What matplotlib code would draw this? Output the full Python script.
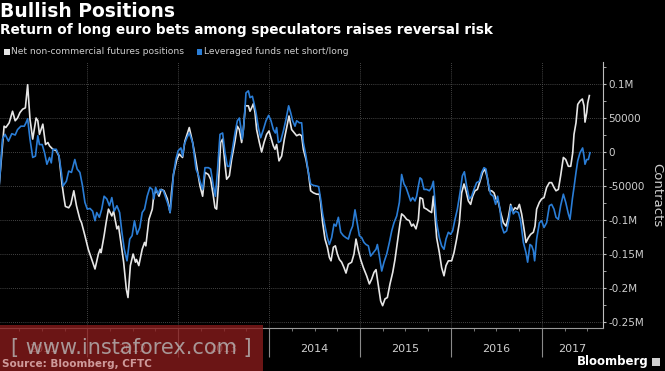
import matplotlib
matplotlib.use("Agg")
import matplotlib.pyplot as plt
from matplotlib.patches import Rectangle
from matplotlib.ticker import FixedLocator, FuncFormatter
from matplotlib.transforms import blended_transform_factory

# ---------------- data (x in decimal years, values in thousands of contracts) -------------
white_x = [2011.030, 2011.085, 2011.104, 2011.141, 2011.178, 2011.207, 2011.233, 2011.259, 2011.289,
           2011.319, 2011.344, 2011.370, 2011.400, 2011.437, 2011.456, 2011.474, 2011.511, 2011.541,
           2011.567, 2011.585, 2011.622, 2011.659, 2011.689, 2011.722, 2011.741, 2011.759, 2011.796,
           2011.819, 2011.852, 2011.881, 2011.919, 2011.937, 2011.974, 2012.011, 2012.059, 2012.085,
           2012.122, 2012.141, 2012.152, 2012.185, 2012.207, 2012.233, 2012.270, 2012.289, 2012.326,
           2012.344, 2012.370, 2012.400, 2012.430, 2012.448, 2012.474, 2012.504, 2012.530, 2012.541,
           2012.567, 2012.604, 2012.630, 2012.644, 2012.678, 2012.715, 2012.733, 2012.763, 2012.789,
           2012.815, 2012.844, 2012.881, 2012.911, 2012.926, 2012.948, 2012.985, 2013.011, 2013.048,
           2013.074, 2013.122, 2013.159, 2013.189, 2013.215,
           2013.240, 2013.269, 2013.295, 2013.332, 2013.357, 2013.387, 2013.405, 2013.423, 2013.442,
           2013.467, 2013.489, 2013.515, 2013.533, 2013.563, 2013.588, 2013.625, 2013.651, 2013.673,
           2013.698, 2013.717, 2013.739, 2013.772, 2013.790, 2013.808, 2013.827, 2013.845, 2013.863,
           2013.893, 2013.918, 2013.944, 2013.973, 2013.999, 2014.021, 2014.047, 2014.065, 2014.083,
           2014.109, 2014.138, 2014.168, 2014.193, 2014.219, 2014.248, 2014.278, 2014.303, 2014.333,
           2014.358, 2014.377, 2014.406, 2014.432, 2014.457, 2014.487, 2014.523, 2014.553, 2014.567,
           2014.589, 2014.615, 2014.641, 2014.663, 2014.681, 2014.707, 2014.729, 2014.751, 2014.773,
           2014.798, 2014.824, 2014.846, 2014.872, 2014.908, 2014.934, 2014.956, 2014.982, 2015.007,
           2015.037, 2015.073, 2015.103, 2015.128, 2015.154, 2015.176, 2015.202, 2015.227, 2015.249,
           2015.275, 2015.301, 2015.330, 2015.360, 2015.385, 2015.411, 2015.440,
           2015.458, 2015.484, 2015.513, 2015.543, 2015.568, 2015.587, 2015.616, 2015.642, 2015.660,
           2015.689, 2015.704, 2015.733, 2015.763, 2015.788, 2015.807, 2015.825, 2015.843, 2015.873,
           2015.898, 2015.924, 2015.946, 2015.972, 2016.008, 2016.034, 2016.063, 2016.093, 2016.118,
           2016.144, 2016.166, 2016.192, 2016.217, 2016.239, 2016.265, 2016.291, 2016.320, 2016.349,
           2016.375, 2016.401, 2016.423, 2016.448, 2016.474, 2016.496, 2016.522, 2016.547, 2016.577,
           2016.606, 2016.632, 2016.657, 2016.679, 2016.705, 2016.731, 2016.753, 2016.778, 2016.804,
           2016.826, 2016.852, 2016.877, 2016.907, 2016.925, 2016.943, 2016.973, 2016.998, 2017.024,
           2017.053, 2017.083, 2017.108, 2017.134, 2017.156, 2017.182, 2017.207, 2017.237, 2017.263,
           2017.292, 2017.318, 2017.340, 2017.354, 2017.376, 2017.395, 2017.420, 2017.446, 2017.464,
           2017.475, 2017.494, 2017.505, 2017.523]
white_k = [-50, 38, 36, 43, 60, 46, 50, 58, 63,
           65, 99, 48, 19, 50, 46, 26, 41, 11,
           14, 9, 4, 2, -6, -47, -65, -80, -82,
           -77, -57, -79, -99, -104, -123, -143, -162, -172,
           -150, -143, -148, -123, -104, -84, -94, -87, -113,
           -109, -133, -162, -202, -214, -167, -150, -162, -158,
           -167, -143, -133, -138, -99, -84, -62, -57, -65,
           -55, -57, -69, -89, -60, -33, -11, -3, -8,
           16, 36, 14, -8, -30,
           -50, -65, -30, -33, -40, -65, -82, -84, -50,
           14, 19, -18, -40, -35, -11, 16, 38, 33,
           14, 33, 68, 68, 60, 65, 71, 58, 33,
           14, 0, 14, 26, 31, 21, 9, 4, 11,
           -13, -6, 19, 36, 53, 33, 28, 24, 26,
           24, 4, -11, -30, -57, -60, -62, -62, -74,
           -104, -128, -140, -155, -160, -140, -138, -150, -158,
           -162, -170, -178, -165, -162, -150, -128, -145, -158,
           -170, -182, -194, -187, -177, -173, -197, -219, -226,
           -216, -214, -194, -177, -158, -133, -105,
           -91, -94, -99, -101, -109, -106, -113, -99, -67,
           -69, -82, -84, -87, -89, -65, -94, -126, -148,
           -170, -182, -167, -160, -160, -148, -128, -104, -60,
           -47, -57, -72, -77, -65, -57, -55, -43, -30,
           -25, -38, -57, -57, -60, -69, -74, -89, -104,
           -109, -96, -77, -87, -82, -84, -77, -91, -113,
           -133, -126, -121, -118, -109, -84, -74, -69, -67,
           -52, -45, -45, -52, -57, -55, -35, -8, -11,
           -21, -21, -1, 26, 43, 70, 75, 78, 68,
           44, 58, 72, 83]

blue_x = [2011.030, 2011.067, 2011.096, 2011.133, 2011.170, 2011.207, 2011.233, 2011.270, 2011.307,
          2011.326, 2011.344, 2011.370, 2011.400, 2011.430, 2011.456, 2011.474, 2011.504, 2011.530,
          2011.556, 2011.585, 2011.604, 2011.622, 2011.659, 2011.689, 2011.715, 2011.733, 2011.770,
          2011.796, 2011.826, 2011.863, 2011.889, 2011.919, 2011.948, 2011.974, 2012.000, 2012.030,
          2012.059, 2012.085, 2012.104, 2012.133, 2012.159, 2012.185, 2012.215, 2012.244, 2012.270,
          2012.296, 2012.326, 2012.356, 2012.381, 2012.407, 2012.437, 2012.467, 2012.493, 2012.519,
          2012.548, 2012.578, 2012.604, 2012.630, 2012.659, 2012.689, 2012.715, 2012.733, 2012.752,
          2012.778, 2012.800, 2012.837, 2012.863, 2012.889, 2012.911, 2012.930, 2012.948, 2012.974,
          2013.000, 2013.030, 2013.048, 2013.067, 2013.096, 2013.122, 2013.159, 2013.196, 2013.225,
          2013.240, 2013.269, 2013.295, 2013.332, 2013.357, 2013.387, 2013.409, 2013.431, 2013.460,
          2013.489, 2013.515, 2013.541, 2013.563, 2013.588, 2013.625, 2013.651, 2013.673, 2013.687,
          2013.706, 2013.724, 2013.746, 2013.772, 2013.790, 2013.816, 2013.834, 2013.856, 2013.882,
          2013.907, 2013.937, 2013.966, 2013.995, 2014.021, 2014.047, 2014.069, 2014.083, 2014.102,
          2014.127, 2014.157, 2014.186, 2014.215, 2014.237, 2014.259, 2014.285, 2014.303, 2014.333,
          2014.358, 2014.377, 2014.406, 2014.432, 2014.457, 2014.487, 2014.523, 2014.545, 2014.567,
          2014.589, 2014.615, 2014.641, 2014.663, 2014.688, 2014.714, 2014.736, 2014.762, 2014.788,
          2014.817, 2014.846, 2014.872, 2014.897, 2014.919, 2014.945, 2014.971, 2014.993, 2015.019,
          2015.044, 2015.066, 2015.092, 2015.117, 2015.147, 2015.176, 2015.191, 2015.213, 2015.239,
          2015.264, 2015.294, 2015.323, 2015.349, 2015.374, 2015.404, 2015.433,
          2015.458, 2015.484, 2015.506, 2015.532, 2015.557, 2015.579, 2015.605, 2015.623, 2015.642,
          2015.660, 2015.678, 2015.704, 2015.733, 2015.763, 2015.788, 2015.807, 2015.825, 2015.843,
          2015.873, 2015.898, 2015.924, 2015.946, 2015.972, 2015.997, 2016.019, 2016.045, 2016.071,
          2016.100, 2016.126, 2016.148, 2016.173, 2016.203, 2016.228, 2016.254, 2016.283, 2016.313,
          2016.338, 2016.364, 2016.386, 2016.412, 2016.437, 2016.467, 2016.492, 2016.514, 2016.540,
          2016.558, 2016.584, 2016.613, 2016.639, 2016.661, 2016.687, 2016.712, 2016.742, 2016.767,
          2016.797, 2016.826, 2016.844, 2016.870, 2016.889, 2016.907, 2016.921, 2016.943, 2016.973,
          2016.998, 2017.024, 2017.053, 2017.083, 2017.108, 2017.134, 2017.156, 2017.182, 2017.207,
          2017.237, 2017.263, 2017.292, 2017.310, 2017.336, 2017.354, 2017.376, 2017.395, 2017.420,
          2017.449, 2017.464, 2017.475, 2017.494, 2017.512, 2017.530]
blue_k = [-52, 19, 26, 16, 27, 25, 33, 38, 38,
          43, 49, 19, -8, -6, 24, 11, 11, -1,
          -18, -8, -16, 4, 4, -6, -30, -50, -43,
          -28, -30, -11, -25, -30, -50, -74, -84, -83,
          -87, -101, -89, -96, -84, -65, -69, -79, -67,
          -87, -79, -89, -118, -143, -160, -128, -123, -101,
          -121, -111, -89, -84, -65, -52, -55, -69, -52,
          -62, -55, -57, -67, -77, -89, -65, -33, -11,
          2, 6, -6, 11, 21, 28, 14, -25, -35,
          -43, -55, -23, -23, -25, -50, -65, -30, 26,
          28, -1, -21, -21, -3, 28, 46, 50, 38,
          19, 43, 87, 90, 80, 82, 72, 58, 36,
          21, 33, 46, 54, 46, 33, 28, 36, 14,
          16, 31, 48, 68, 58, 46, 38, 46, 43,
          43, 14, -6, -30, -47, -49, -50, -51, -69,
          -91, -109, -126, -136, -126, -106, -109, -96, -118,
          -123, -126, -128, -116, -109, -85, -106, -123, -126,
          -133, -136, -138, -153, -148, -143, -136, -153, -175,
          -162, -150, -133, -116, -104, -94, -74,
          -33, -47, -52, -62, -72, -67, -72, -65, -50,
          -38, -40, -55, -55, -57, -52, -43, -74, -104,
          -126, -138, -143, -128, -118, -121, -116, -99, -84,
          -60, -35, -29, -50, -69, -65, -55, -45, -43,
          -30, -23, -25, -47, -62, -65, -77, -65, -84,
          -109, -119, -116, -99, -79, -91, -87, -89, -101,
          -133, -148, -162, -136, -138, -145, -160, -128, -104,
          -101, -111, -104, -79, -77, -84, -96, -99, -79,
          -62, -74, -91, -99, -69, -52, -30, -13, -1,
          6, -6, -18, -11, -11, -1]

years = [2011, 2012, 2013, 2014, 2015, 2016, 2017]
y_ticks = [100000, 50000, 0, -50000, -100000, -150000, -200000, -250000]
y_tick_labels = ["0.1M", "50000", "0", "-50000", "-0.1M", "-0.15M", "-0.2M", "-0.25M"]

title = "Bullish Positions"
subtitle = "Return of long euro bets among speculators raises reversal risk"
series_names = ["Net non-commercial futures positions", "Leveraged funds net short/long"]

# ---------------- styling ----------------
W, H = 665, 371
BG = "black"
WHITE_LINE = "#e6e6e6"
BLUE_LINE = "#2a7dd6"
TXT = "#cfcfcf"
GRID = "#5a5a5a"
XMIN, XMAX = 2011.040, 2017.673
YMIN, YMAX = -258800, 132400

def fx(px):
    return px / W

def fy(py):
    return 1 - py / H

fig = plt.figure(figsize=(W / 100, H / 100), dpi=100, facecolor=BG)
ax = fig.add_axes([0, fy(328), fx(603), fy(62) - fy(328)], facecolor=BG)

ax.plot(white_x, [v * 1000 for v in white_k], color=WHITE_LINE, lw=1.2, zorder=3)
ax.plot(blue_x, [v * 1000 for v in blue_k], color=BLUE_LINE, lw=1.2, zorder=4)

ax.set_xlim(XMIN, XMAX)
ax.set_ylim(YMIN, YMAX)

# spines
for s in ("left", "top"):
    ax.spines[s].set_visible(False)
ax.spines["right"].set_color("#bdbdbd")
ax.spines["right"].set_linewidth(0.8)
ax.spines["bottom"].set_color("#9a9a9a")
ax.spines["bottom"].set_linewidth(0.8)

# y axis on right
ax.yaxis.tick_right()
ax.yaxis.set_major_locator(FixedLocator(y_ticks))
ax.set_yticklabels(y_tick_labels)
ax.yaxis.set_minor_locator(FixedLocator([t + 25000 for t in y_ticks]))
ax.tick_params(axis="y", which="major", direction="out", length=2.5, width=0.8,
               colors="#bdbdbd", labelcolor=TXT, labelsize=7.5, pad=1.5)
ax.tick_params(axis="y", which="minor", direction="out", length=1.8, width=0.6, colors="#bdbdbd")

# x axis: year separators as long ticks, quarter minor ticks
ax.xaxis.set_major_locator(FixedLocator(years[1:]))
ax.xaxis.set_major_formatter(FuncFormatter(lambda v, p: ""))
ax.xaxis.set_minor_locator(FixedLocator([y + q for y in years for q in (0.25, 0.5, 0.75)
                                         if XMIN < y + q < XMAX]))
ax.tick_params(axis="x", which="major", direction="out", length=21, width=0.8, colors="#8a8a8a")
ax.tick_params(axis="x", which="minor", direction="out", length=2.2, width=0.6, colors="#8a8a8a")

# grids
for t in y_ticks:
    ax.axhline(t, color=GRID, lw=0.6, ls=(0, (1, 1.5)), zorder=1)
for yv in years[1:]:
    ax.axvline(yv, color=GRID, lw=0.6, ls=(0, (1, 1.5)), zorder=1)

# year labels centred in visible segments
blend = blended_transform_factory(ax.transData, fig.transFigure)
bounds = [XMIN] + years[1:] + [XMAX]
for i, yv in enumerate(years):
    c = (bounds[i] + bounds[i + 1]) / 2
    ax.text(c, fy(349), str(yv), transform=blend, ha="center", va="center",
            color=TXT, fontsize=8)

# y axis title
fig.text(fx(657), fy(195), "Contracts", rotation=270, ha="center", va="center",
         color=TXT, fontsize=9.5)

# title + subtitle
fig.text(fx(0.5), fy(2), title, ha="left", va="top", color="white", fontsize=13.5,
         fontweight="bold")
fig.text(fx(0.5), fy(23), subtitle, ha="left", va="top", color="white", fontsize=9.85,
         fontweight="bold")

# legend
fig.patches.append(Rectangle((fx(4), fy(54.5)), fx(5.5), fy(49) - fy(54.5),
                             transform=fig.transFigure, facecolor=WHITE_LINE, edgecolor="none"))
fig.text(fx(11), fy(52), series_names[0], ha="left", va="center", color=TXT, fontsize=6.6)
fig.patches.append(Rectangle((fx(196.5), fy(54.5)), fx(5.5), fy(49) - fy(54.5),
                             transform=fig.transFigure, facecolor=BLUE_LINE, edgecolor="none"))
fig.text(fx(204), fy(52), series_names[1], ha="left", va="center", color=TXT, fontsize=6.6)

# source and branding
fig.text(fx(2), fy(364), "Source: Bloomberg, CFTC", ha="left", va="center", color="#f0c8c8",
         fontsize=7.5, fontweight="bold", zorder=12, alpha=0.75)
fig.text(fx(649), fy(362), "Bloomberg", ha="right", va="center", color="white",
         fontsize=8.5, fontweight="bold")
fig.patches.append(Rectangle((fx(652), fy(366)), fx(8), fy(358) - fy(366),
                             transform=fig.transFigure, facecolor="#d0d0d0", edgecolor="none"))

# watermark overlay
fig.patches.append(Rectangle((0, 0), fx(263), fy(325), transform=fig.transFigure,
                             facecolor="#8a1c1c", edgecolor="none", alpha=0.78, zorder=10))
fig.text(fx(131), fy(348), "[ www.instaforex.com ]", ha="center", va="center",
         color="#b8b8b8", alpha=0.8, fontsize=15, zorder=11)

fig.savefig("out.png", dpi=100, facecolor=BG)
